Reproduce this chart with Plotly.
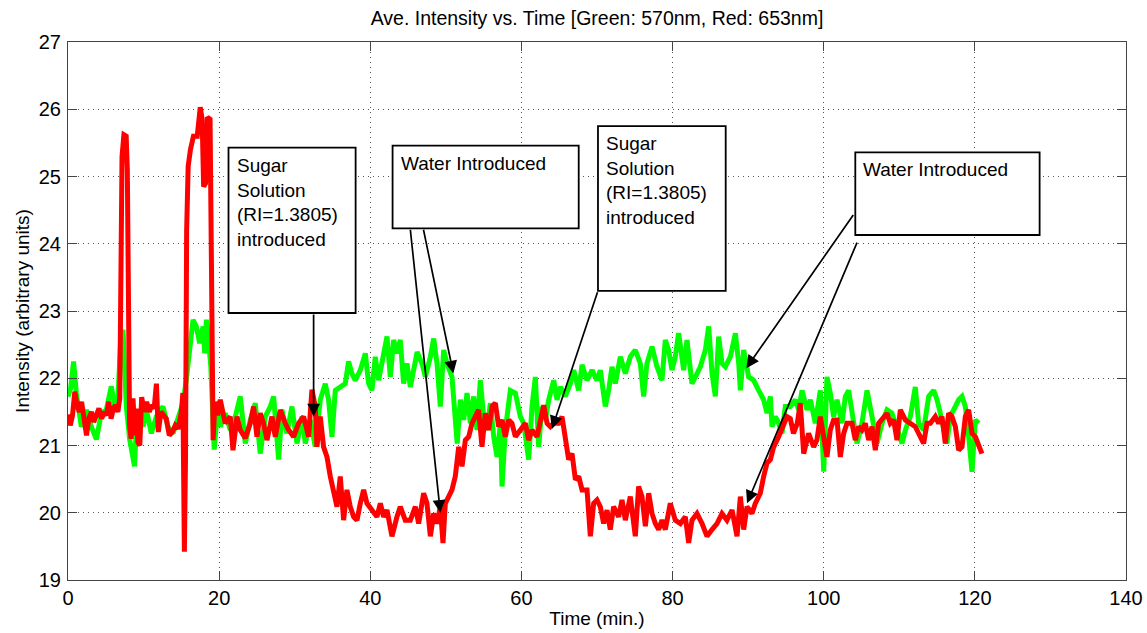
import plotly.graph_objects as go

# ---------------- data ----------------
red_t = [0.0, 0.3, 0.6, 0.9, 1.2, 1.5, 1.8, 2.1, 2.45, 2.75, 3.1, 3.4, 3.75, 4.1, 4.45, 4.8, 5.1, 5.4, 5.7, 6.0,
         6.3, 6.6, 6.85, 7.0, 7.15, 7.4, 7.7, 7.85, 8.0, 8.15, 8.35, 8.6, 8.85, 9.05, 9.25, 9.5, 9.75, 10.1, 10.4,
         10.75, 11.1, 11.4, 11.7, 11.95, 12.3, 12.6, 13.0, 13.4, 13.8, 14.2, 14.6, 15.0, 15.2, 15.4, 15.55, 15.7,
         15.9, 16.2, 16.6, 17.1, 17.5, 17.75, 17.95, 18.2, 18.45, 18.8, 18.95, 19.1, 19.2, 19.45, 19.8,
         20.15, 20.8, 21.47, 21.83, 22.36, 22.8, 23.46, 24.12, 24.56, 25.0, 25.44, 25.88, 26.33, 26.99, 27.43,
         28.09, 28.75, 29.2, 29.85, 30.52, 31.18, 31.84, 32.28, 32.72, 32.94, 33.38, 33.82, 34.27, 34.71, 35.15,
         35.59, 36.03, 36.47, 36.91, 37.35, 37.8, 38.24, 38.68, 39.12, 39.56, 40.22, 40.88, 41.33, 41.77, 42.21,
         42.87, 43.53, 43.97, 44.63, 45.3, 45.96, 46.4, 47.06, 47.5, 47.95, 48.39, 48.83, 49.27, 49.62, 49.93,
         50.37, 50.81, 51.25, 51.7, 52.14, 52.58, 53.02, 53.46, 53.9, 54.34, 54.78, 55.22, 55.67, 56.11, 56.55,
         56.99, 57.43, 57.87, 58.31, 58.75, 59.2, 59.86, 60.52, 60.96, 61.4, 62.06, 62.5, 62.95, 63.39, 63.83,
         64.27, 64.93, 65.37, 65.81, 66.25, 66.7, 67.14, 67.58, 68.02, 68.68, 69.12, 69.56, 70.0, 70.44, 70.88,
         71.32, 71.76, 72.2, 72.87, 73.31, 73.75, 74.41, 74.85, 75.07, 75.51, 75.95, 76.4, 76.84, 77.28, 77.72,
         78.16, 78.6, 79.04, 79.7, 80.36, 81.03, 81.69, 82.13, 82.57, 83.23, 83.9, 84.56, 85.22, 85.88, 86.54,
         87.2, 87.87, 88.53, 88.97, 89.41, 89.85, 90.51, 90.95, 91.61, 92.05, 92.5, 92.94, 93.38, 94.04, 94.7,
         95.14, 95.58, 96.0, 96.5, 96.9, 97.35, 98.0, 98.67, 99.1, 99.55, 100.0, 100.43, 100.87, 101.31, 101.76,
         102.2, 102.64, 103.08, 103.74, 104.18, 104.62, 105.06, 105.5, 105.95, 106.39, 106.83, 107.27, 107.93,
         108.37, 108.81, 109.25, 109.7, 110.14, 110.8, 111.46, 112.12, 112.78, 113.22, 113.67, 114.11, 114.77,
         115.21, 115.65, 116.09, 116.53, 116.97, 117.42, 117.86, 118.3, 118.74, 119.18, 119.62, 120.06, 120.5,
         120.94]
red_v = [21.46, 21.30, 21.45, 21.80, 21.60, 21.50, 21.65, 21.45, 21.15, 21.40, 21.50, 21.35, 21.45, 21.55, 21.40,
         21.50, 21.45, 21.65, 21.40, 21.55, 21.60, 21.50, 21.70, 24.30, 25.30, 25.62, 25.60, 25.10, 23.40, 21.30,
         21.10, 21.70, 21.15, 21.55, 21.05, 21.00, 21.72, 21.50, 21.65, 21.50, 21.60, 21.55, 21.92, 21.20, 21.50,
         21.45, 21.40, 21.15, 21.20, 21.30, 21.25, 21.50, 21.78, 19.42, 20.80, 24.20, 25.15, 25.40, 25.60, 25.60,
         26.03, 25.85, 24.85, 24.90, 25.88, 25.85, 24.50, 22.50, 21.08, 21.65, 21.45,
         21.68, 21.33, 21.43, 20.93, 21.43, 21.23, 21.11, 21.33, 21.58, 21.13, 21.48, 21.33, 21.08, 21.43, 21.13,
         21.53, 21.33, 21.23, 21.13, 21.33, 21.43, 21.13, 21.83, 21.58, 20.98, 21.43, 20.98, 20.83, 20.54, 20.34,
         20.09, 20.54, 19.89, 20.34, 20.09, 19.94, 19.89, 20.14, 20.34, 20.14, 20.04, 19.94, 20.14, 19.94, 20.04,
         19.65, 19.94, 20.09, 19.89, 19.89, 20.09, 19.84, 20.29, 20.14, 19.65, 19.99, 19.84, 20.09, 19.55, 20.14,
         20.24, 20.34, 20.54, 20.98, 20.69, 21.08, 21.13, 21.33, 21.43, 21.53, 20.98, 21.48, 21.23, 21.58, 21.63,
         21.28, 21.38, 21.13, 21.38, 21.33, 21.13, 21.23, 21.33, 21.08, 21.23, 21.13, 21.33, 21.60, 21.33, 21.28,
         21.33, 21.33, 21.43, 21.13, 20.79, 20.88, 20.49, 20.54, 20.34, 20.34, 19.65, 20.14, 20.19, 20.09, 19.84,
         20.04, 19.75, 20.09, 19.94, 20.19, 19.89, 20.24, 19.75, 19.65, 20.39, 20.24, 19.80, 20.29, 19.99, 19.84,
         19.75, 19.89, 19.75, 20.14, 19.89, 19.84, 19.94, 19.55, 19.89, 19.99, 19.84, 19.65, 19.75, 19.84, 19.99,
         19.89, 20.04, 19.65, 20.24, 19.75, 20.09, 19.99, 20.14, 20.29, 20.54, 20.74, 20.79, 20.98, 21.13, 21.33,
         21.43, 21.40, 21.18, 21.33, 21.63, 20.88, 21.18, 20.98, 21.08, 21.43, 21.13, 20.83, 21.23, 21.38, 21.38,
         20.83, 21.18, 21.33, 21.33, 21.08, 21.28, 21.23, 21.33, 21.08, 21.28, 20.93, 21.33, 21.43,
         21.48, 21.33, 21.38, 21.08, 21.53, 21.38, 21.33, 21.28, 21.13, 21.03, 21.33, 21.33, 21.43,
         21.33, 21.43, 21.03, 21.48, 21.43, 21.28, 20.93, 20.98, 21.43, 21.53, 21.18, 21.13, 20.98,
         20.88]

green_t = [0.0, 0.35, 0.74, 1.1, 1.76, 2.43, 3.09, 3.75, 4.41, 5.07, 5.73, 6.18, 6.62, 6.95, 7.28, 7.72, 8.16,
           8.8, 9.04, 9.48, 9.93, 10.37, 11.03, 11.69, 12.57, 13.23, 13.9, 14.56, 15.22, 15.66, 16.1, 16.54,
           16.98, 17.42, 17.87, 18.09, 18.31, 18.53, 18.9, 19.35, 19.85,
           20.15, 20.81, 21.47, 22.14, 22.8, 23.46, 24.12, 24.78, 25.44, 26.1, 26.77, 27.21, 27.87, 28.31, 28.97,
           29.63, 30.3, 30.96, 31.4, 32.06, 32.72, 33.38, 34.04, 34.48, 34.93, 35.37, 36.03, 36.69, 37.13, 37.57,
           38.01, 38.68, 39.34, 39.78, 40.22, 40.66, 41.1, 41.77, 42.21, 42.65, 43.09, 43.53, 43.97, 44.41, 44.85,
           45.3, 45.74, 46.2, 46.84, 47.29, 47.95, 48.39, 48.83, 49.27, 49.71, 50.15, 50.81, 51.25, 51.5, 51.92,
           52.36, 52.8, 53.24, 53.68, 54.12, 54.56, 55.0, 55.45, 55.89, 56.33, 56.77, 57.21, 57.43, 57.87, 58.53,
           59.2, 59.86, 60.3, 60.96, 61.4, 61.84, 62.28, 62.72, 63.17, 63.61, 64.27, 64.71, 65.15, 65.81, 66.47,
           66.92, 67.58, 68.02, 68.68, 69.34, 70.0, 70.44, 71.1, 71.54, 71.98, 72.42, 73.09, 73.75, 74.41, 75.07,
           75.73, 76.17, 76.61, 77.28, 77.94, 78.6, 79.04, 79.48, 79.92, 80.36, 80.8, 81.47, 81.91, 82.57, 83.23,
           83.67, 84.34, 84.78, 85.22, 85.66, 86.1, 86.54, 86.98, 87.65, 88.31, 88.75, 88.97, 89.41, 90.07, 90.73,
           91.39, 92.05, 92.5, 92.94, 93.16, 93.6, 94.04, 94.48, 94.92, 95.58, 96.24, 96.69, 97.13, 97.79, 98.23,
           98.89, 99.55, 100.0, 100.43, 100.87, 101.31, 101.76, 102.42, 102.86, 103.3, 103.74, 104.4, 105.06,
           105.73, 106.39, 107.05, 107.71, 108.37, 109.03, 109.7, 110.36, 110.8, 111.46, 112.12, 112.56, 113.22,
           113.89, 114.55, 114.99, 115.43, 115.87, 116.31, 116.75, 117.2, 117.86, 118.3, 118.74, 119.18, 119.62,
           120.06, 120.5]
green_v = [21.73, 21.85, 22.25, 21.78, 21.28, 21.53, 21.28, 21.09, 21.48, 21.53, 21.88, 21.58, 21.73, 22.52, 22.72,
           21.58, 21.09, 20.69, 21.28, 21.53, 21.28, 21.53, 21.18, 21.43, 21.58, 21.28, 21.18, 21.38, 21.63, 21.98,
           22.52, 22.87, 22.77, 22.52, 22.77, 22.37, 22.87, 22.67, 22.17, 20.94, 21.63,
           21.28, 21.48, 21.23, 21.43, 21.73, 21.03, 21.38, 21.63, 20.88, 21.43, 21.58, 21.73, 20.79, 21.53, 21.18,
           21.58, 21.03, 21.43, 21.03, 21.38, 20.98, 21.68, 21.92, 21.68, 21.13, 21.82, 21.87, 21.92, 22.25, 22.07,
           21.97, 22.12, 22.37, 21.92, 21.82, 22.32, 21.97, 22.32, 22.62, 22.02, 22.57, 22.37, 22.57, 21.92, 22.22,
           21.87, 22.17, 22.39, 22.22, 22.02, 22.32, 22.59, 22.22, 21.58, 22.42, 22.22, 22.02, 21.43, 21.03, 21.68,
           21.38, 21.78, 21.33, 21.73, 21.23, 21.97, 21.43, 21.23, 21.63, 21.13, 20.83, 21.33, 20.39, 21.23, 21.82,
           21.78, 21.43, 21.33, 20.79, 21.58, 22.02, 20.98, 21.58, 21.38, 21.68, 21.97, 21.68, 21.87, 21.73, 21.92,
           22.12, 21.82, 22.20, 21.97, 22.12, 21.97, 22.12, 21.58, 21.82, 22.17, 21.92, 22.32, 22.07, 22.32, 22.42,
           22.22, 21.73, 22.22, 22.47, 22.17, 21.97, 22.57, 22.42, 22.12, 22.32, 22.67, 22.12, 22.57, 21.92, 22.07,
           22.17, 22.42, 22.77, 22.07, 21.73, 22.62, 22.22, 22.17, 22.32, 22.67, 22.22, 21.82, 22.42, 22.02, 21.97,
           21.82, 21.68, 21.48, 21.73, 21.28, 21.43, 21.33, 21.18, 21.58, 21.58, 21.68, 21.53, 21.82, 21.53, 21.68,
           21.33, 21.82, 20.61, 22.02, 21.78, 21.43, 21.68, 21.33, 21.73, 21.82, 21.48, 21.03, 21.33,
           21.82, 21.43, 21.03, 21.33, 21.53, 21.48, 21.23, 21.03, 21.23, 21.43, 21.87, 21.33, 21.23,
           21.73, 21.82, 21.68, 21.48, 21.23, 21.03, 21.43, 21.53, 21.68, 21.73, 21.58, 21.13, 20.61,
           21.38, 21.33]

x_ticks = [0, 20, 40, 60, 80, 100, 120, 140]
y_ticks = [19, 20, 21, 22, 23, 24, 25, 26, 27]

title_text = "Ave. Intensity vs. Time [Green: 570nm, Red: 653nm]"
x_label = "Time (min.)"
y_label = "Intensity (arbitrary units)"

sugar_text = "Sugar<br>Solution<br>(RI=1.3805)<br>introduced"
water_text = "Water Introduced"

# text boxes: (left, right, top, bottom, text) in data units
boxes = [
    (21.24, 38.06, 25.43, 22.97, sugar_text),
    (42.95, 67.58, 25.46, 24.23, water_text),
    (70.13, 87.03, 25.75, 23.30, sugar_text),
    (104.18, 128.57, 25.36, 24.13, water_text),
]
# arrows: (tail_x, tail_y, head_x, head_y)
arrows = [
    (32.5, 22.97, 32.5, 21.43),
    (45.28, 24.23, 49.27, 20.0),
    (47.0, 24.23, 50.99, 22.07),
    (70.13, 23.30, 64.05, 21.25),
    (104.05, 24.45, 89.76, 22.15),
    (104.49, 24.04, 89.85, 20.14),
]

FONT = "Arial, Liberation Sans, Helvetica, sans-serif"

fig = go.Figure()
fig.add_trace(go.Scatter(x=green_t, y=green_v, mode="lines",
                         line=dict(color="#00ff00", width=5), hoverinfo="skip"))
fig.add_trace(go.Scatter(x=red_t, y=red_v, mode="lines",
                         line=dict(color="#ff0000", width=5), hoverinfo="skip"))

shapes = []
annotations = []
for (l, r, t, b, txt) in boxes:
    shapes.append(dict(type="rect", xref="x", yref="y", x0=l, x1=r, y0=b, y1=t,
                       line=dict(color="black", width=1.8), fillcolor="white", layer="above"))
    annotations.append(dict(x=l, y=t, xref="x", yref="y", xanchor="left", yanchor="top",
                            xshift=6, yshift=-5, text=txt, showarrow=False, align="left",
                            font=dict(family=FONT, size=19, color="black")))
for (tx, ty, hx, hy) in arrows:
    annotations.append(dict(x=hx, y=hy, ax=tx, ay=ty, xref="x", yref="y", axref="x", ayref="y",
                            text="", showarrow=True, arrowhead=2, arrowsize=1.5, arrowwidth=1.7,
                            arrowcolor="black", standoff=0, startstandoff=0))

axis_common = dict(showline=True, linecolor="#444444", linewidth=1, mirror="ticks",
                   ticks="inside", ticklen=9, tickwidth=1, tickcolor="#444444",
                   showgrid=True, gridcolor="#555555", gridwidth=1, griddash="1px,4px",
                   zeroline=False, automargin=False,
                   tickfont=dict(family=FONT, size=20, color="black"))

fig.update_layout(
    width=1147, height=633,
    margin=dict(l=68, r=21, t=42, b=53, pad=0, autoexpand=False),
    paper_bgcolor="white", plot_bgcolor="white",
    showlegend=False,
    title=dict(text=title_text, x=0.5, xref="paper", xanchor="center",
               y=1 - 11 / 633, yref="container", yanchor="top", automargin=False,
               font=dict(family=FONT, size=19.5, color="black")),
    xaxis=dict(range=[0, 140], tickvals=x_ticks, ticktext=[str(v) for v in x_ticks],
               title=dict(text=x_label, font=dict(family=FONT, size=19, color="black"), standoff=3),
               ticklabelstandoff=0, **axis_common),
    yaxis=dict(range=[19, 27], tickvals=y_ticks, ticktext=[str(v) for v in y_ticks],
               title=dict(text=y_label, font=dict(family=FONT, size=19, color="black"), standoff=4),
               ticklabelstandoff=2, **axis_common),
    shapes=shapes,
    annotations=annotations,
)

fig.write_html("out.html")
